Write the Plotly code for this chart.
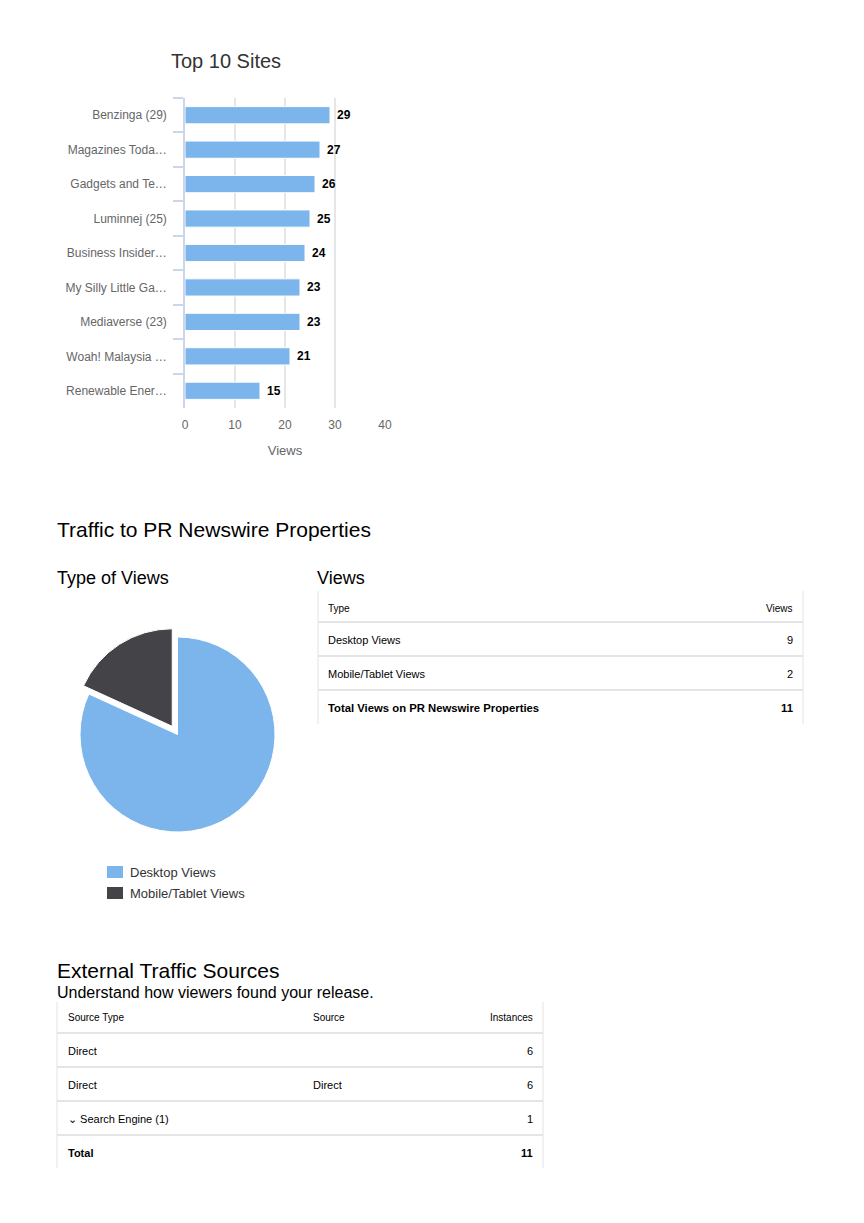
import plotly.graph_objects as go

W, H = 864, 1223
M = 8  # default page body margin
FW, FH = W - 2 * M, H - 2 * M
FONT = "Liberation Sans, Arial, Helvetica, sans-serif"

# ---------------- data ----------------
sites = ["Benzinga (29)", "Magazines Toda…", "Gadgets and Te…", "Luminnej (25)",
         "Business Insider…", "My Silly Little Ga…", "Mediaverse (23)",
         "Woah! Malaysia …", "Renewable Ener…"]
site_views = [29, 27, 26, 25, 24, 23, 23, 21, 15]
x_ticks = [0, 10, 20, 30, 40]

view_types = ["Desktop Views", "Mobile/Tablet Views"]
view_counts = [9, 2]
views_header = ["Type", "Views"]
views_total_label = "Total Views on PR Newswire Properties"
views_total = 11

src_header = ["Source Type", "Source", "Instances"]
src_type = ["Direct", "Direct", "⌄ Search Engine (1)"]
src_source = ["", "Direct", ""]
src_instances = [6, 6, 1]
src_total_label = "Total"
src_total = 11

BLUE = "#7cb5ec"
DARK = "#434348"


def px(x):
    return (x - M) / FW


def py(y):
    return 1 - (y - M) / FH


fig = go.Figure()

# ---------------- bar chart ----------------
fig.add_trace(go.Bar(
    x=site_views, y=sites, orientation="h",
    marker=dict(color=BLUE, line=dict(color="white", width=1)),
    showlegend=False, hoverinfo="x+y",
    xaxis="x", yaxis="y",
))

fig.update_layout(
    xaxis=dict(domain=[px(185), px(385)], range=[0, 40], tickvals=x_ticks,
               showgrid=True, gridcolor="#e6e6e6", gridwidth=1.5,
               zeroline=False, showline=False, ticks="",
               tickfont=dict(family=FONT, size=12, color="#666666"),
               ticklabelstandoff=8, automargin=False,
               title=dict(text="Views", font=dict(family=FONT, size=13, color="#666666"),
                          standoff=14),
               anchor="y", fixedrange=True),
    yaxis=dict(domain=[py(408), py(98)], autorange="reversed", type="category",
               showline=True, linecolor="#ccd6eb", linewidth=1.5,
               ticks="outside", tickson="boundaries", ticklen=10, tickcolor="#ccd6eb",
               tickwidth=1.5, showgrid=False, zeroline=False,
               tickfont=dict(family=FONT, size=12, color="#666666"),
               ticklabelstandoff=14, automargin=False,
               anchor="x", fixedrange=True),
    bargap=0.5,
)

annotations = []
for s, v in zip(sites, site_views):
    annotations.append(dict(
        x=v, y=s, xref="x", yref="y", text=str(v), showarrow=False,
        xanchor="left", yanchor="middle", xshift=5,
        font=dict(family=FONT, size=12, color="black", weight="bold"),
    ))

# ---------------- pie ----------------
cx, cy, r, pull = 177.5, 734.5, 97.5, 0.1
half = r * (1 + pull)
fig.add_trace(go.Pie(
    labels=view_types, values=view_counts, sort=False, direction="clockwise",
    rotation=0, pull=[0, pull], textinfo="none", automargin=False,
    marker=dict(colors=[BLUE, DARK], line=dict(color="white", width=1)),
    domain=dict(x=[px(cx - half), px(cx + half)], y=[py(cy + half), py(cy - half)]),
    showlegend=False, hoverinfo="label+value",
))

shapes = []


def text(x, y, s, size, color="#000000", anchor="left", bold=False):
    annotations.append(dict(
        x=px(x), y=py(y), xref="paper", yref="paper", text=s, showarrow=False,
        xanchor=anchor, yanchor="middle", borderpad=0,
        font=dict(family=FONT, size=size, color=color, weight="bold" if bold else "normal"),
    ))


def hline(x0, x1, y, color="#dddddd", width=1.5):
    shapes.append(dict(type="line", xref="paper", yref="paper",
                       x0=px(x0), x1=px(x1), y0=py(y), y1=py(y),
                       line=dict(color=color, width=width)))


def vline(x, y0, y1, color="#e3e3e3", width=1):
    shapes.append(dict(type="line", xref="paper", yref="paper",
                       x0=px(x), x1=px(x), y0=py(y0), y1=py(y1),
                       line=dict(color=color, width=width)))


# titles
text(226, 61, "Top 10 Sites", 20, "#333333", anchor="center")
text(56, 529, "Traffic to PR Newswire Properties", 21)
text(56, 578, "Type of Views", 18)
text(316, 578, "Views", 18)
text(56, 970, "External Traffic Sources", 21)
text(56, 992, "Understand how viewers found your release.", 16)

# pie legend
leg_colors = [BLUE, DARK]
for i, lab in enumerate(view_types):
    yc = 872 + i * 21
    shapes.append(dict(type="rect", xref="paper", yref="paper",
                       x0=px(107), x1=px(123), y0=py(yc + 6), y1=py(yc - 6),
                       fillcolor=leg_colors[i], line=dict(width=0)))
    text(129, yc + 0.5, lab, 13, "#333333")

# ---------------- Views table ----------------
tl, tr = 318, 803
row_tops = [591, 622, 656, 690, 724]
vline(tl, row_tops[0], row_tops[-1])
vline(tr, row_tops[0], row_tops[-1])
for yb in row_tops[1:-1]:
    hline(tl, tr, yb)
text(327, 608, views_header[0], 10)
text(794, 608, views_header[1], 10, anchor="right")
for i, (lab, v) in enumerate(zip(view_types, view_counts)):
    yc = (row_tops[i + 1] + row_tops[i + 2]) / 2 + 1
    text(327, yc, lab, 11)
    text(794, yc, str(v), 11, anchor="right")
yc = (row_tops[3] + row_tops[4]) / 2 + 1
text(327, yc, views_total_label, 11.3, bold=True)
text(794, yc, str(views_total), 11.3, anchor="right", bold=True)

# ---------------- External traffic table ----------------
el, er = 57, 543
erows = [1002, 1033, 1067, 1101, 1135, 1168]
vline(el, erows[0], erows[-1])
vline(er, erows[0], erows[-1])
for yb in erows[1:-1]:
    hline(el, er, yb)
text(67, 1018, src_header[0], 10)
text(312, 1018, src_header[1], 10)
text(534, 1018, src_header[2], 10, anchor="right")
for i in range(len(src_type)):
    yc = (erows[i + 1] + erows[i + 2]) / 2 + 1
    text(67, yc, src_type[i], 11)
    if src_source[i]:
        text(312, yc, src_source[i], 11)
    text(534, yc, str(src_instances[i]), 11, anchor="right")
yc = (erows[4] + erows[5]) / 2 + 1
text(67, yc, src_total_label, 11, bold=True)
text(534, yc, str(src_total), 11, anchor="right", bold=True)

fig.update_layout(
    template="none",
    width=FW, height=FH, margin=dict(l=0, r=0, t=0, b=0, autoexpand=False),
    paper_bgcolor="white", plot_bgcolor="white",
    shapes=shapes, annotations=annotations,
    font=dict(family=FONT),
    showlegend=False,
)

fig.write_html("out.html", config={"displayModeBar": False})
